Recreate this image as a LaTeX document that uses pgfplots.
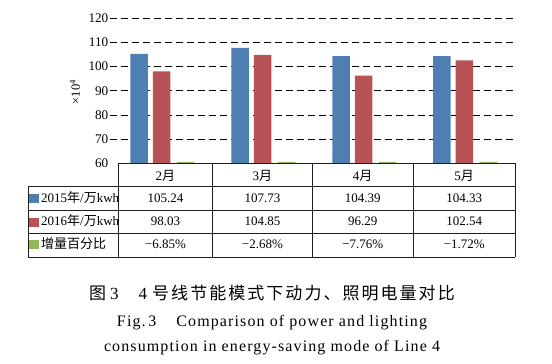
\documentclass[border=0pt]{standalone}
\usepackage{fontspec}
\setmainfont{Liberation Serif}
\newfontfamily\cjk{Noto Sans CJK SC}
\newfontfamily\capfont[LetterSpace=7]{Liberation Serif}
\newfontfamily\cjkcap[LetterSpace=12]{Noto Sans CJK SC}
\usepackage{pgfplots}
\pgfplotsset{compat=1.18}
\definecolor{cblue}{RGB}{79,126,178}
\definecolor{cred}{RGB}{183,82,86}
\definecolor{cgreen}{RGB}{146,182,88}
\definecolor{tline}{RGB}{30,30,30}
\begin{document}
\begin{tikzpicture}[x=1bp,y=1bp]
\useasboundingbox (0,0) rectangle (552,363);
\begin{axis}[
  at={(110bp,199.7bp)}, anchor=south west,
  width=406bp, height=145bp, scale only axis,
  xmin=-0.512, xmax=3.511, ymin=60, ymax=120,
  axis line style={draw=none},
  xtick=\empty,
  ytick={70,80,...,120},
  extra y ticks={60},
  extra y tick style={grid=none},
  ymajorgrids,
  major grid style={draw=black, line width=0.9bp, dash pattern=on 7bp off 4bp},
  major tick length=0pt,
  yticklabel style={font=\fontsize{13.2bp}{15bp}\selectfont, inner sep=0pt, xshift=-1.5bp},
  /pgf/number format/assume math mode=true,
]
\addplot[ybar, bar width=17.5bp, bar shift=-22.5bp, fill=cblue, draw=none] coordinates {(0,105.24) (1,107.73) (2,104.39) (3,104.33)};
\addplot[ybar, bar width=17.5bp, bar shift=0bp, fill=cred, draw=none] coordinates {(0,98.03) (1,104.85) (2,96.29) (3,102.54)};
\addplot[ybar, bar width=17.5bp, bar shift=24bp, fill=cgreen, draw=none] coordinates {(0,60.6) (1,60.6) (2,60.6) (3,60.6)};
\end{axis}
% y label
\node[rotate=90, font=\fontsize{12.5bp}{14bp}\selectfont] at (75,271) {×10\textsuperscript{4}};
% table lines
\begin{scope}[tline, line width=0.9bp]
\draw (118,199.7) -- (515,199.7);
\foreach \y in {177,153,130,106} \draw (28,\y) -- (515,\y);
\draw (28,177) -- (28,106);
\foreach \x in {118,212.7,312,413.3,515} \draw (\x,199.7) -- (\x,106);
\end{scope}
% legend squares
\fill[cblue] (29,160) rectangle (39,169);
\fill[cred] (29,136.3) rectangle (39,145.3);
\fill[cgreen] (29,113.7) rectangle (39,123);
\begin{scope}[every node/.style={font=\fontsize{13bp}{15bp}\selectfont, inner sep=0pt, anchor=base}]
\begin{scope}
\clip (40,100) rectangle (117.5,180);
\node[anchor=base west] at (41,160.7) {2015{\cjk 年}/{\cjk 万}kwh};
\node[anchor=base west] at (41,137.3) {2016{\cjk 年}/{\cjk 万}kwh};
\node[anchor=base west] at (41,114.7) {\cjk 增量百分比};
\end{scope}
% header
\node at (165.4,183) {2{\cjk 月}};
\node at (262.4,183) {3{\cjk 月}};
\node at (362.7,183) {4{\cjk 月}};
\node at (464.2,183) {5{\cjk 月}};
% rows
\node at (165.4,160.7) {105.24};
\node at (262.4,160.7) {107.73};
\node at (362.7,160.7) {104.39};
\node at (464.2,160.7) {104.33};
\node at (165.4,137.3) {98.03};
\node at (262.4,137.3) {104.85};
\node at (362.7,137.3) {96.29};
\node at (464.2,137.3) {102.54};
\node at (165.4,114.7) {−6.85\%};
\node at (262.4,114.7) {−2.68\%};
\node at (362.7,114.7) {−7.76\%};
\node at (464.2,114.7) {−1.72\%};
\end{scope}
% caption
\node[anchor=base, inner sep=0pt] at (272,64) {\fontsize{17bp}{19bp}\selectfont\cjkcap 图\rmfamily\hspace{4bp}3\hspace{20bp}4\hspace{5bp}\cjkcap 号线节能模式下动力、照明电量对比};
\node[anchor=base, inner sep=0pt] at (272,36.3) {\fontsize{16bp}{18bp}\selectfont\capfont Fig.\,3\hspace{20bp}Comparison of power and lighting};
\node[anchor=base, inner sep=0pt] at (272,12) {\fontsize{16bp}{18bp}\selectfont\capfont consumption in energy-saving mode of Line 4};
\end{tikzpicture}
\end{document}
